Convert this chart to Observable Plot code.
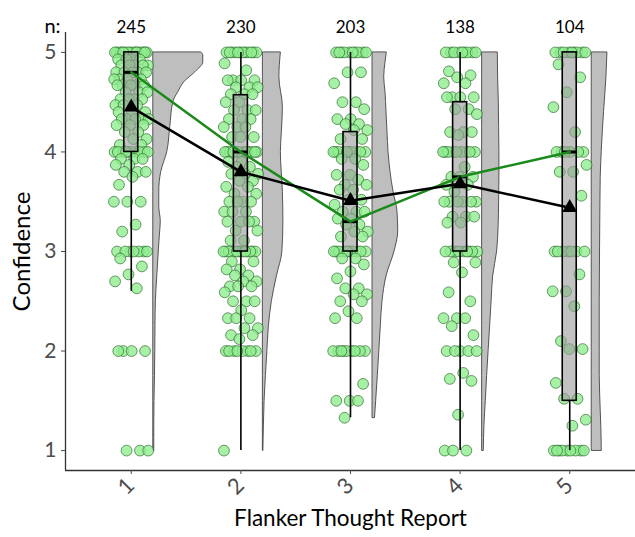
<!DOCTYPE html>
<html><head><meta charset="utf-8">
<script src="https://cdn.jsdelivr.net/npm/d3@7"></script>
<script src="https://cdn.jsdelivr.net/npm/@observablehq/plot@0.6"></script>
<style>body{margin:0;background:#fff;}</style>
</head><body><div id="chart"></div>
<script>
// ---------- data ----------
const categories = [1, 2, 3, 4, 5];
const xTickLabels = ["1", "2", "3", "4", "5"];
const nLabels = ["245", "230", "203", "138", "104"];
const yTicks = [1, 2, 3, 4, 5];
const xTitle = "Flanker Thought Report";
const yTitle = "Confidence";

// box-plot statistics per category
const q1 = [4, 3, 3, 3, 1.5];
const q3 = [5, 4.57, 4.2, 4.5, 5];
const medians = [4.8, 4.0, 3.3, 3.75, 4.0];
const whiskerLow = [2.6, 1, 1.33, 1, 1];
const whiskerHigh = [5, 5, 5, 5, 5];
const means = [4.45, 3.8, 3.51, 3.68, 3.44];

// individual (visible) observations per category
const c1 = [5,5,5,5,5,5,5,5,5,5,5,5,5,5,5,5,
  4.93,4.93,4.93,4.93,4.87,4.87,4.87,4.87,4.87,4.8,4.8,4.8,4.8,4.8,4.73,4.73,4.73,4.73,
  4.67,4.67,4.67,4.67,4.67,4.6,4.6,4.6,4.53,4.53,4.53,4.53,4.47,4.47,4.47,4.4,4.4,4.4,
  4.33,4.33,4.33,4.33,4.33,4.27,4.27,4.27,4.2,4.2,4.13,4.13,4.07,4.07,
  4,4,4,4,4,4,4,4,4,4,
  3.93,3.93,3.93,3.87,3.87,3.8,3.8,3.8,3.75,3.67,3.5,3.5,3.5,3.27,3.2,
  3,3,3,3,3,3,3,2.93,2.85,2.77,2.7,2.63,2,2,2,2,1,1,1];
const c2 = [5,5,5,5,5,5,5,5,5,5,5,5,
  4.89,4.82,4.72,4.72,4.72,4.72,4.65,4.65,4.65,4.58,4.58,4.58,4.5,4.5,4.42,4.42,4.42,
  4.33,4.33,4.33,4.25,4.25,4.25,4.15,4.15,4.15,
  4,4,4,4,4,4,4,4,4,4,4,4,
  3.9,3.9,3.85,3.85,3.78,3.78,3.78,3.71,3.71,3.65,3.65,3.58,3.58,3.5,3.5,3.5,3.5,
  3.4,3.4,3.4,3.3,3.3,3.3,3.3,3.21,3.21,3.11,3.11,
  3,3,3,3,3,3,3,3,3,3,3,3,
  2.9,2.9,2.82,2.82,2.76,2.76,2.7,2.7,2.65,2.65,2.65,2.59,2.5,2.5,2.5,2.41,
  2.33,2.33,2.33,2.23,2.23,2.16,2.16,2.12,
  2,2,2,2,2,2,2,2,1];
const c3 = [5,5,5,5,5,5,5,5,5,5,
  4.8,4.8,4.69,4.5,4.5,4.43,4.33,4.33,4.28,4.28,4.22,4.22,4.13,4.13,
  4,4,4,4,4,4,4,4,4,4,
  3.93,3.93,3.87,3.77,3.77,3.72,3.67,3.67,3.62,3.62,3.52,3.52,3.47,3.4,3.4,3.4,
  3.33,3.33,3.27,3.27,3.2,3.2,3.15,3.15,
  3,3,3,3,3,3,3,3,3,3,
  2.93,2.93,2.87,2.8,2.73,2.63,2.63,2.57,2.57,2.5,2.5,2.4,2.33,2.33,
  2,2,2,2,2,2,2,2,2,1.67,1.5,1.5,1.5,1.33];
const c4 = [5,5,5,5,5,5,5,5,5,
  4.81,4.77,4.75,4.69,4.69,4.55,4.55,4.55,4.55,4.43,4.43,4.38,4.2,4.2,4.2,4.17,
  4,4,4,4,4,4,4,4,4,
  3.85,3.75,3.75,3.75,3.67,3.67,3.6,3.5,3.5,3.5,3.5,3.5,3.5,3.35,3.35,3.35,3.29,3.29,
  3,3,3,3,3,3,3,3,3,
  2.89,2.89,2.79,2.59,2.5,2.33,2.33,2.33,2.25,2.16,
  2,2,2,2,2,1.78,1.72,1.7,1.36,1,1,1];
const c5 = [5,5,5,5,5,5,5,5,5,
  4.88,4.75,4.6,4.45,4.2,
  4,4,4,4,4,4,3.87,3.8,3.8,3.56,
  3,3,3,3,3,3,3,
  2.77,2.6,2.6,2.45,2.1,2.02,2.02,1.68,1.52,1.52,1.31,1.25,
  1,1,1,1,1,1,1,1,1];
const observations = [c1, c2, c3, c4, c5];

// half-violin outlines: confidence level and width (px) of density
const vY1 = [1,1.25,1.5,1.75,2,2.25,2.5,2.75,3,3.15,3.3,3.45,3.6,3.8,4,4.25,4.5,4.6,4.7,4.8,4.9,4.97,5];
const vW1 = [1,1,1.2,1.7,2,2.2,2.6,4,5.5,6.5,7.5,6,6,8,14,17,20,25,31,42,50,50,48];
const vY2 = [1,1.25,1.5,1.75,2,2.25,2.5,2.75,3,3.3,3.6,4,4.2,4.45,4.75,5];
const vW2 = [0.5,1,1.7,3,4.5,6,9,14,19.5,20.5,20,18,19,20,16.5,18];
const vY3 = [1.33,1.5,1.75,2,2.25,2.5,2.75,3,3.2,3.4,3.6,3.8,4,4.2,4.4,4.6,4.75,4.9,5];
const vW3 = [2.5,3.7,5.3,6.8,8.3,10,14,22,25.7,25,21,18,16,15,14,13,11.7,13,14.3];
const vY4 = [1,1.25,1.5,1.75,2,2.25,2.5,2.75,3,3.25,3.5,3.75,4,4.25,4.5,4.75,5];
const vW4 = [1.7,2.3,3.7,5,6.5,8,9.5,11,15,16.5,17,17.3,17.3,17,16.7,16,15.7];
const vY5 = [1,1.05,1.4,1.75,2,2.5,3,3.5,3.75,4,4.4,4.75,5];
const vW5 = [10,10,9,8,8,8,8.3,8.7,9,10,12.3,14.7,15.7];
const violinY = [vY1, vY2, vY3, vY4, vY5];
const violinW = [vW1, vW2, vW3, vW4, vW5];

// ---------- layout ----------
const W = 635, H = 537, mL = 65, mR = 0, mT = 32, mB = 67;
const xDomain = [0.4, 5.6], yDomain = [0.8, 5.2];
const pxPerX = (W - mL - mR) / (xDomain[1] - xDomain[0]);
const boxHalf = 7 / pxPerX, violinGap = 22 / pxPerX, jitterHalf = 0.16;
const font = "Lato, 'Open Sans', sans-serif";

const points = [];
observations.forEach((vals, ci) => vals.forEach((v, i) => {
  const u = ((i + 1) * 0.6180339887) % 1; // deterministic jitter layout
  points.push({x: categories[ci] + (u - 0.5) * 2 * jitterHalf, y: v});
}));
const violin = [];
violinY.forEach((ys, ci) => ys.forEach((y, i) => {
  const c = categories[ci];
  violin.push({cat: c, y, x1: c + violinGap, x2: c + violinGap + violinW[ci][i] / pxPerX});
}));
const stats = categories.map((c, i) => ({
  c, q1: q1[i], q3: q3[i], med: medians[i], lo: whiskerLow[i], hi: whiskerHigh[i], mean: means[i], n: nLabels[i], lab: xTickLabels[i]
}));

const chart = Plot.plot({
  width: W, height: H,
  marginLeft: mL, marginRight: mR, marginTop: mT, marginBottom: mB,
  style: {fontFamily: font, background: "#fff", overflow: "visible"},
  x: {domain: xDomain, axis: null},
  y: {domain: yDomain, axis: null},
  marks: [
    Plot.areaX(violin, {y: "y", x1: "x1", x2: "x2", z: "cat", fill: "#bebebe", stroke: "#444", strokeWidth: 0.9, curve: "monotone-y"}),
    Plot.dot(points, {x: "x", y: "y", r: 5.4, fill: "#90ee90", fillOpacity: 0.8, stroke: "#2d6a2d", strokeOpacity: 0.75, strokeWidth: 0.9}),
    Plot.ruleX(stats, {x: "c", y1: "lo", y2: "q1", stroke: "#000", strokeWidth: 1.6}),
    Plot.ruleX(stats, {x: "c", y1: "q3", y2: "hi", stroke: "#000", strokeWidth: 1.6}),
    Plot.rect(stats, {x1: d => d.c - boxHalf, x2: d => d.c + boxHalf, y1: "q1", y2: "q3", fill: "#9a9a9a", fillOpacity: 0.6, stroke: "#000", strokeWidth: 1.6}),
    Plot.ruleY(stats, {y: "med", x1: d => d.c - boxHalf, x2: d => d.c + boxHalf, stroke: "#000", strokeWidth: 3}),
    Plot.line(stats, {x: "c", y: "med", stroke: "#1a8a1a", strokeWidth: 2.5}),
    Plot.line(stats, {x: "c", y: "mean", stroke: "#000", strokeWidth: 2.5}),
    Plot.dot(stats, {x: "c", y: "mean", symbol: "triangle", r: 4.6, fill: "#000", stroke: "#000"}),
    // axes
    Plot.ruleX([xDomain[0]], {stroke: "#333", strokeWidth: 1.3}),
    Plot.ruleY([yDomain[0]], {stroke: "#333", strokeWidth: 1.3}),
    Plot.axisY({ticks: yTicks, tickSize: 4, tickPadding: 5, tickFormat: d => String(d), fontSize: 21, color: "#4d4d4d", label: null}),
    Plot.axisX({ticks: categories, tickSize: 4, tickFormat: () => "", color: "#4d4d4d", label: null}),
    Plot.text(stats, {x: "c", text: "lab", frameAnchor: "bottom", dy: 21, rotate: -45, fontSize: 22, fill: "#4d4d4d"}),
    Plot.text([xTitle], {frameAnchor: "bottom", dy: 55, fontSize: 22.5, fill: "#000"}),
    Plot.text([yTitle], {frameAnchor: "left", textAnchor: "middle", dx: -43, rotate: -90, fontSize: 24, fill: "#000"}),
    Plot.text(stats, {x: "c", text: "n", frameAnchor: "top", dy: -12, fontSize: 17, fill: "#000"}),
    Plot.text(["n:"], {frameAnchor: "top-left", textAnchor: "middle", dx: -13, dy: -14, fontSize: 20, fill: "#000"})
  ]
});
document.getElementById("chart").appendChild(chart);
</script>
</body></html>
